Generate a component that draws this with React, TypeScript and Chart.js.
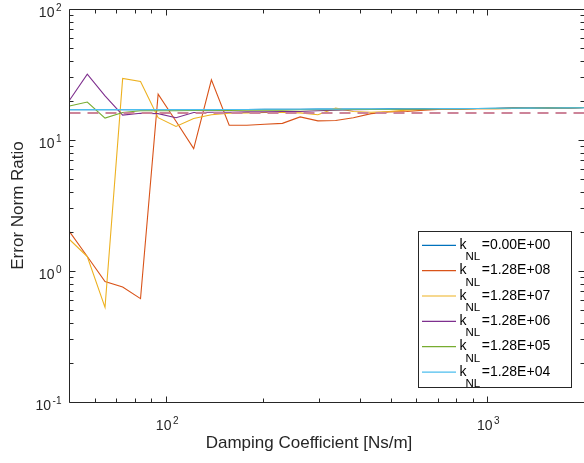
import React, { useEffect, useRef } from "react";
import { Chart, registerables } from "chart.js";

Chart.register(...registerables);

// Damping coefficient [Ns/m] (x values)
const dampingCoeff = [
  50.0, 56.8, 64.5, 73.2, 83.2, 94.4, 107.3, 121.8, 138.3, 157.1,
  178.4, 202.6, 230.1, 261.3, 296.8, 337.0, 382.7, 434.6, 493.6, 560.5,
  636.6, 722.9, 821.0, 932.3, 1058.8, 1202.4, 1365.5, 1550.7, 1761.1, 2000.0,
];

const legendLabels = ["0.00E+00", "1.28E+08", "1.28E+07", "1.28E+06", "1.28E+05", "1.28E+04"];

const ratioK0 = [
  17.05, 17.05, 17.05, 17.05, 17.05, 17.05, 17.05, 17.05, 17.05, 17.1,
  17.1, 17.15, 17.15, 17.15, 17.2, 17.2, 17.25, 17.25, 17.3, 17.3,
  17.35, 17.35, 17.4, 17.4, 17.45, 17.5, 17.5, 17.55, 17.6, 17.65,
];
const ratioK128e8 = [
  2.0, 1.29, 0.83, 0.755, 0.615, 22.4, 13.9, 8.6, 28.8, 12.95,
  12.95, 13.2, 13.4, 15.0, 14.0, 14.1, 14.8, 15.9, 16.4, 16.5,
  16.9, 17.2, 17.2, 17.3, 17.3, 17.4, 17.4, 17.5, 17.6, 17.7,
];
const ratioK128e7 = [
  1.74, 1.29, 0.527, 29.5, 28.0, 14.8, 12.7, 14.6, 15.6, 16.0,
  16.1, 16.2, 16.2, 16.1, 15.6, 17.5, 16.5, 16.3, 16.5, 16.9,
  17.1, 17.2, 17.2, 17.3, 17.3, 17.4, 17.4, 17.5, 17.6, 17.7,
];
const ratioK128e6 = [
  20.1, 31.8, 21.7, 15.5, 16.0, 15.9, 14.8, 16.2, 16.3, 16.3,
  16.4, 16.4, 16.5, 16.5, 16.7, 16.9, 17.0, 17.1, 17.1, 17.2,
  17.2, 17.3, 17.3, 17.4, 17.4, 17.5, 17.5, 17.6, 17.6, 17.7,
];
const ratioK128e5 = [
  18.2, 19.5, 14.7, 16.2, 16.7, 16.7, 16.7, 16.8, 16.8, 16.8,
  16.9, 16.9, 16.9, 17.0, 17.0, 17.0, 17.1, 17.1, 17.1, 17.2,
  17.2, 17.3, 17.3, 17.4, 17.4, 17.5, 17.5, 17.6, 17.6, 17.7,
];
const ratioK128e4 = [
  17.05, 17.05, 17.05, 17.05, 17.05, 17.05, 17.05, 17.05, 17.05, 17.1,
  17.1, 17.15, 17.15, 17.15, 17.2, 17.2, 17.25, 17.25, 17.25, 17.3,
  17.3, 17.35, 17.35, 17.4, 17.45, 17.45, 17.5, 17.55, 17.6, 17.65,
];

const referenceLevel = 16.1;
const xRange = [50, 2000];
const yRange = [0.1, 100];
const xMajorTicks = [100, 1000];
const xMinorTicks = [60, 70, 80, 90, 200, 300, 400, 500, 600, 700, 800, 900];
const yMajorTicks = [0.1, 1, 10, 100];
const yTickExponents = ["-1", "0", "1", "2"];
const xTickExponents = ["2", "3"];
const yMinorTicks = [
  0.2, 0.3, 0.4, 0.5, 0.6, 0.7, 0.8, 0.9,
  2, 3, 4, 5, 6, 7, 8, 9,
  20, 30, 40, 50, 60, 70, 80, 90,
];

const seriesValues = [ratioK0, ratioK128e8, ratioK128e7, ratioK128e6, ratioK128e5, ratioK128e4];
const seriesColors = ["#0072BD", "#D95319", "#EDB120", "#7E2F8E", "#77AC30", "#4DBEEE"];

const FONT = '"Liberation Sans", Arial, Helvetica, sans-serif';
const AXIS_COLOR = "#262626";

function drawPow(ctx: CanvasRenderingContext2D, exp: string, x: number, y: number, mode: "center" | "right", baseSize: number, supSize: number, supRise: number) {
  ctx.font = `${baseSize}px ${FONT}`;
  const wb = ctx.measureText("10").width;
  ctx.font = `${supSize}px ${FONT}`;
  const ws = ctx.measureText(exp).width;
  const gap = 1.5;
  const total = wb + gap + ws;
  const start = mode === "center" ? x - total / 2 : x - total;
  ctx.textAlign = "left";
  ctx.textBaseline = "alphabetic";
  ctx.font = `${baseSize}px ${FONT}`;
  ctx.fillText("10", start, y);
  ctx.font = `${supSize}px ${FONT}`;
  ctx.fillText(exp, start + wb + gap, y - supRise);
}

const matlabPlugin = {
  id: "matlabAxes",
  beforeDraw(chart: any) {
    const { ctx, width, height } = chart;
    ctx.save();
    ctx.fillStyle = "#ffffff";
    ctx.fillRect(0, 0, width, height);
    ctx.restore();
  },
  afterDraw(chart: any) {
    const { ctx, chartArea: ca, scales } = chart;
    const xs = scales.x;
    const ys = scales.y;
    const L = ca.left;
    const R = ca.right + 0.5;
    const T = ca.top + 0.5;
    const B = ca.bottom + 0.5;
    ctx.save();
    ctx.strokeStyle = AXIS_COLOR;
    ctx.lineWidth = 1;
    ctx.beginPath();
    ctx.rect(L, T, R - L, B - T);
    ctx.stroke();

    const majorLen = 6;
    const minorLen = 4;
    ctx.beginPath();
    const xTick = (v: number, len: number) => {
      const px = Math.round(xs.getPixelForValue(v)) + 0.5;
      ctx.moveTo(px, B);
      ctx.lineTo(px, B - len);
      ctx.moveTo(px, T);
      ctx.lineTo(px, T + len);
    };
    const yTick = (v: number, len: number) => {
      const py = Math.round(ys.getPixelForValue(v)) + 0.5;
      ctx.moveTo(L, py);
      ctx.lineTo(L + len, py);
      ctx.moveTo(R, py);
      ctx.lineTo(R - len, py);
    };
    xMajorTicks.forEach((v) => xTick(v, majorLen));
    xMinorTicks.forEach((v) => xTick(v, minorLen));
    yMajorTicks.forEach((v) => yTick(v, majorLen));
    yMinorTicks.forEach((v) => yTick(v, minorLen));
    ctx.stroke();

    // tick labels
    ctx.fillStyle = AXIS_COLOR;
    xMajorTicks.forEach((v, i) => {
      const px = xs.getPixelForValue(v);
      drawPow(ctx, xTickExponents[i], px + 1, B + 27, "center", 14, 10, 6);
    });
    yMajorTicks.forEach((v, i) => {
      const py = ys.getPixelForValue(v);
      drawPow(ctx, yTickExponents[i], L - 8, py + 8, "right", 14, 10, 6);
    });

    // axis titles
    ctx.font = `17px ${FONT}`;
    ctx.textAlign = "center";
    ctx.textBaseline = "alphabetic";
    ctx.fillText("Damping Coefficient [Ns/m]", 309, 448);
    ctx.save();
    ctx.translate(23, (ca.top + ca.bottom) / 2);
    ctx.rotate(-Math.PI / 2);
    ctx.fillText("Error Norm Ratio", 0, 0);
    ctx.restore();

    // legend
    const lx0 = 418.5, ly0 = 231.5, lx1 = 571.5, ly1 = 387.5;
    ctx.fillStyle = "#ffffff";
    ctx.fillRect(lx0, ly0, lx1 - lx0, ly1 - ly0);
    ctx.strokeStyle = AXIS_COLOR;
    ctx.lineWidth = 1;
    ctx.strokeRect(lx0, ly0, lx1 - lx0, ly1 - ly0);
    legendLabels.forEach((lab, i) => {
      const y = 245.3 + 25.35 * i;
      ctx.strokeStyle = seriesColors[i];
      ctx.lineWidth = 1.2;
      ctx.beginPath();
      ctx.moveTo(422, y);
      ctx.lineTo(456, y);
      ctx.stroke();
      ctx.fillStyle = "#000000";
      ctx.textAlign = "left";
      ctx.font = `14px ${FONT}`;
      ctx.fillText("k", 459.5, y + 3.5);
      const kw = ctx.measureText("k").width;
      ctx.font = `11.5px ${FONT}`;
      ctx.fillText("NL", 459.5 + kw - 1, y + 15);
      const nw = ctx.measureText("NL").width;
      ctx.font = `14px ${FONT}`;
      ctx.fillText("=" + lab, 459.5 + kw - 1 + nw + 1.5, y + 3.5);
    });
    ctx.restore();
  },
};

export default function App() {
  const ref = useRef<HTMLCanvasElement>(null);
  useEffect(() => {
    if (!ref.current) return;
    const datasets: any[] = seriesValues.map((vals, i) => ({
      label: legendLabels[i],
      data: dampingCoeff.map((x, j) => ({ x, y: vals[j] })),
      borderColor: seriesColors[i],
      backgroundColor: seriesColors[i],
      borderWidth: 1.1,
      pointRadius: 0,
      tension: 0,
      fill: false,
      order: 10 - i,
    }));
    datasets.push({
      label: "reference",
      data: [
        { x: xRange[0], y: referenceLevel },
        { x: xRange[1], y: referenceLevel },
      ],
      borderColor: "#cd8499",
      borderWidth: 2,
      borderDash: [11, 7],
      pointRadius: 0,
      fill: false,
      order: 0,
    });
    const chart = new Chart(ref.current, {
      type: "line",
      data: { datasets },
      options: {
        animation: false,
        responsive: false,
        devicePixelRatio: 1,
        layout: { padding: { left: 69.5, right: 0, top: 9, bottom: 61 } },
        plugins: { legend: { display: false }, tooltip: { enabled: false } },
        scales: {
          x: { type: "logarithmic", min: xRange[0], max: xRange[1], display: false },
          y: { type: "logarithmic", min: yRange[0], max: yRange[1], display: false },
        },
      },
      plugins: [matlabPlugin],
    } as any);
    return () => chart.destroy();
  }, []);
  return (
    <canvas
      ref={ref}
      width={584}
      height={463}
      style={{ position: "fixed", left: 0, top: 0, width: 584, height: 463 }}
    />
  );
}
